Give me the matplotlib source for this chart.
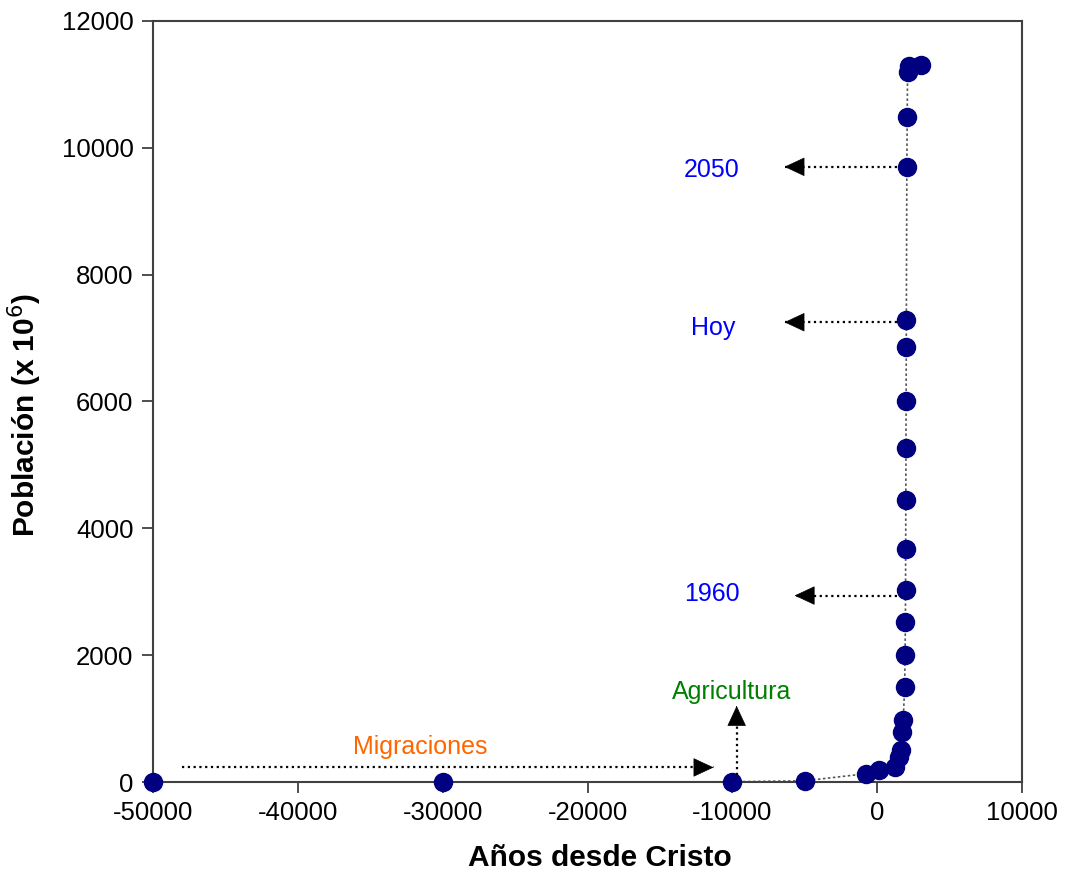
import matplotlib
matplotlib.use("Agg")
import matplotlib.pyplot as plt

plt.rcParams["font.family"] = ["Liberation Sans", "DejaVu Sans"]
plt.rcParams["axes.unicode_minus"] = False

# ── Data ─────────────────────────────────────────────────────
years = [-50000, -30000, -10000, -5000, -800, 100, 1200, 1500, 1650,
         1750, 1800, 1900, 1927, 1950, 1960, 1970, 1980, 1990, 2000,
         2010, 2015, 2050, 2075, 2100, 2200, 3000]
population = [0, 0, 4, 20, 130, 190, 240, 400, 500,
              790, 980, 1500, 2000, 2520, 3020, 3680, 4450, 5270, 6000,
              6860, 7290, 9690, 10490, 11200, 11290, 11300]

xticks = [-50000, -40000, -30000, -20000, -10000, 0, 10000]
yticks = [0, 2000, 4000, 6000, 8000, 10000, 12000]

# annotations: (label, colour, text xy, arrow tail, arrow head)
notes = [
    ("2050", "#0000FF", (-11400, 9650), (1400, 9700), (-6400, 9700)),
    ("Hoy", "#0000FF", (-11300, 7160), (1400, 7250), (-6400, 7250)),
    ("1960", "#0000FF", (-11400, 2965), (1400, 2940), (-5700, 2940)),
    ("Agricultura", "#008000", (-10080, 1420), (-9700, 110), (-9700, 1200)),
    ("Migraciones", "#FF6600", (-31560, 550), (-48000, 230), (-11300, 230)),
]

fig = plt.figure(figsize=(10.65, 8.73), dpi=100)
ax = fig.add_axes([0.1437, 0.1042, 0.8159, 0.8718])

ax.plot(years, population, color="#555555", linestyle=(0, (1.5, 1.5)),
        linewidth=1.2, zorder=2)
ax.plot(years, population, linestyle="none", marker="o", markersize=13,
        color="#000080", zorder=3)

for label, colour, txy, tail, head in notes:
    # dotted shaft
    ax.plot([tail[0], head[0]], [tail[1], head[1]], color="black",
            linestyle=(0, (1, 1.6)), linewidth=1.6, zorder=4)
    # solid triangular head
    near = (head[0] + (tail[0] - head[0]) * 0.02,
            head[1] + (tail[1] - head[1]) * 0.02)
    ax.annotate("", xy=head, xytext=near,
                arrowprops=dict(arrowstyle="-|>,head_length=0.9,head_width=0.42",
                                mutation_scale=15, linewidth=0.5,
                                color="black", shrinkA=0, shrinkB=0),
                zorder=4)
    ax.text(txy[0], txy[1], label, color=colour, fontsize=18,
            ha="center", va="center")

ax.set_xlim(-50000, 10000)
ax.set_ylim(0, 12000)
ax.set_xticks(xticks)
ax.set_yticks(yticks)
ax.tick_params(axis="both", direction="out", length=8, width=1.3,
               color="#404040", labelsize=18.5, pad=6)
for sp in ax.spines.values():
    sp.set_color("#404040")
    sp.set_linewidth(1.5)
# keep markers at the edges fully visible
for line in ax.lines:
    line.set_clip_on(False)

ax.set_xlabel("Años desde Cristo", fontsize=21.5, fontweight="bold")
ax.set_ylabel("Población (x 10$^6$)", fontsize=21.5, fontweight="bold")
ax.xaxis.set_label_coords(0.514, -0.082)
ax.yaxis.set_label_coords(-0.125, 0.482)

fig.savefig("out.png", dpi=100)
